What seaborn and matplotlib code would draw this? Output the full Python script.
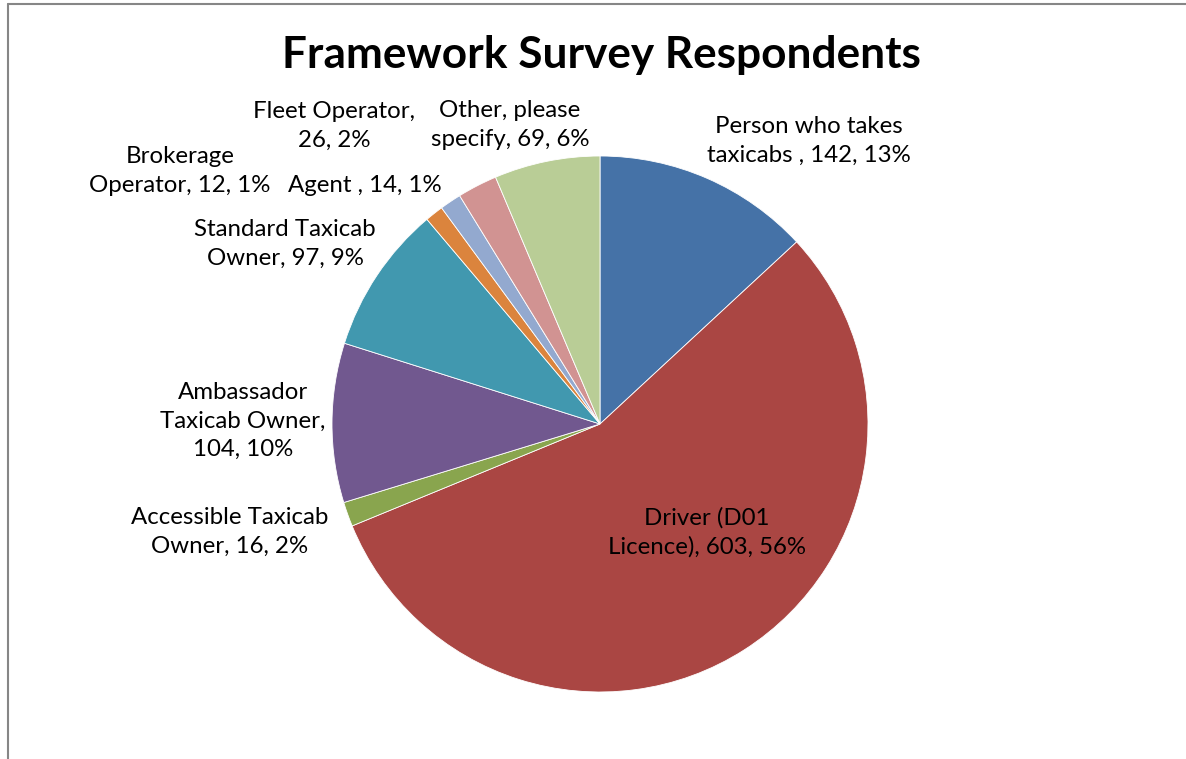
import matplotlib
matplotlib.use("Agg")
import matplotlib.pyplot as plt
from matplotlib.lines import Line2D
import seaborn as sns

# ---- data ----
categories = [
    "Person who takes taxicabs ",
    "Driver (D01 Licence)",
    "Accessible Taxicab Owner",
    "Ambassador Taxicab Owner",
    "Standard Taxicab Owner",
    "Brokerage Operator",
    "Agent ",
    "Fleet Operator",
    "Other, please specify",
]
counts = [142, 603, 16, 104, 97, 12, 14, 26, 69]
percent_labels = ["13%", "56%", "2%", "10%", "9%", "1%", "1%", "2%", "6%"]
colors = ["#4572A7", "#AA4643", "#89A54E", "#71588F", "#4198AF",
          "#DB843D", "#93A9CF", "#D19392", "#B9CD96"]
title = "Framework Survey Respondents"

# ---- layout (label text wrapping and pixel centres) ----
label_lines = [
    ["Person who takes", "taxicabs , {v}, {p}"],
    ["Driver (D01", "Licence), {v}, {p}"],
    ["Accessible Taxicab", "Owner, {v}, {p}"],
    ["Ambassador", "Taxicab Owner,", "{v}, {p}"],
    ["Standard Taxicab", "Owner, {v}, {p}"],
    ["Brokerage", "Operator, {v}, {p}"],
    ["Agent , {v}, {p}"],
    ["Fleet Operator,", "{v}, {p}"],
    ["Other, please", "specify, {v}, {p}"],
]
label_pos = [(809, 141), (707, 532), (230, 532), (243, 421), (285, 244),
             (180, 171), (365, 186), (334, 126), (510, 125)]

W, H = 1186, 759
sns.set_theme(style="white")
plt.rcParams["font.family"] = ["Lato", "DejaVu Sans"]

fig = plt.figure(figsize=(W / 100, H / 100), dpi=100)
fig.patch.set_facecolor("white")

cx, cy, r = 600, 424, 268
ax = fig.add_axes([(cx - r) / W, (H - cy - r) / H, 2 * r / W, 2 * r / H])
palette = sns.color_palette(colors)
ax.pie(counts, colors=palette, startangle=90, counterclock=False,
       radius=1.0, wedgeprops=dict(edgecolor="white", linewidth=0.6))
ax.set_xlim(-1, 1)
ax.set_ylim(-1, 1)
ax.set_aspect("equal")
ax.axis("off")

for lines, v, p, (px, py) in zip(label_lines, counts, percent_labels, label_pos):
    txt = "\n".join(l.format(v=v, p=p) for l in lines)
    fig.text(px / W, 1 - py / H, txt, ha="center", va="center",
             fontsize=17.3, color="black", linespacing=1.42,
             multialignment="center")

fig.text(601 / W, 1 - 55 / H, title, ha="center", va="center",
         fontsize=31.8, fontweight="bold", color="black")

# chart area border (top and left visible)
fig.add_artist(Line2D([7.5 / W, 1], [1 - 3.5 / H, 1 - 3.5 / H],
                      transform=fig.transFigure, color="#868686", lw=1.5))
fig.add_artist(Line2D([7.5 / W, 7.5 / W], [0, 1 - 3.5 / H],
                      transform=fig.transFigure, color="#868686", lw=1.5))

fig.savefig("out.png", dpi=100, facecolor="white")
